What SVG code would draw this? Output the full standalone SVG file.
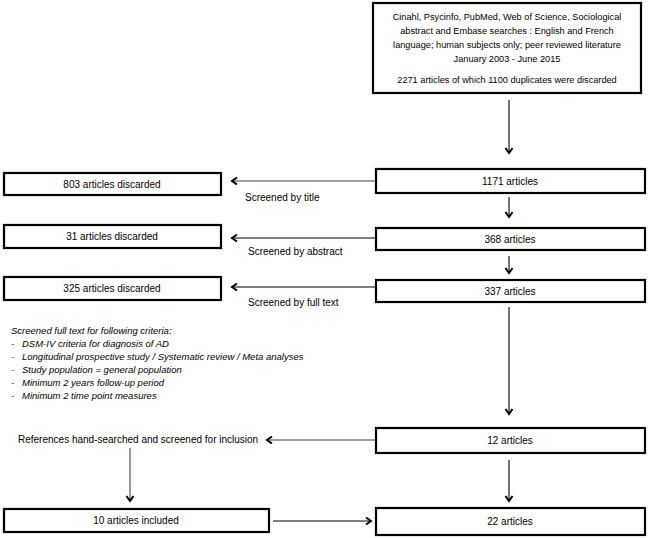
<svg xmlns="http://www.w3.org/2000/svg" width="648" height="538" viewBox="0 0 648 538">
  <defs>
    <style>
      .box { fill: #ffffff; stroke: #000000; stroke-width: 2.2; }
      .t { font-family: "Liberation Sans", Arial, sans-serif; font-size: 10px; fill: #000000; }
      .s { font-size: 9.2px; }
      .c { text-anchor: middle; }
      .it { font-style: italic; font-size: 9.5px; }
      .ln { fill: none; stroke: #000000; stroke-width: 1.1; }
      .gr { fill: none; stroke: #7f7f7f; stroke-width: 1.6; }
    </style>
    <marker id="ah" markerWidth="10" markerHeight="10" refX="6" refY="4" orient="auto" markerUnits="userSpaceOnUse">
      <path d="M1,0.5 L6,4 L1,7.5" fill="none" stroke="#000000" stroke-width="2"/>
    </marker>
  </defs>
  <rect width="648" height="538" fill="#ffffff"/>

  <g id="connectors">
    <line class="ln" x1="509" y1="100" x2="509" y2="153" marker-end="url(#ah)"/>
    <line class="gr" x1="375" y1="181" x2="232" y2="181" marker-end="url(#ah)"/>
    <line class="ln" x1="509" y1="197" x2="509" y2="217" marker-end="url(#ah)"/>
    <line class="ln" x1="375" y1="238" x2="232" y2="238" marker-end="url(#ah)"/>
    <line class="ln" x1="509" y1="256" x2="509" y2="273" marker-end="url(#ah)"/>
    <line class="ln" x1="375" y1="287" x2="232" y2="287" marker-end="url(#ah)"/>
    <line class="ln" x1="509" y1="307" x2="509" y2="414" marker-end="url(#ah)"/>
    <line class="gr" x1="375" y1="440" x2="267" y2="440" marker-end="url(#ah)"/>
    <line class="gr" x1="130" y1="448" x2="130" y2="501" marker-end="url(#ah)"/>
    <line class="ln" x1="509" y1="460" x2="509" y2="501" marker-end="url(#ah)"/>
    <line class="ln" x1="273" y1="521" x2="371" y2="521" marker-end="url(#ah)"/>
  </g>

  <g id="search">
    <rect class="box" x="373" y="3" width="268" height="90"/>
    <text class="t s c" x="507" y="20">Cinahl, Psycinfo, PubMed, Web of Science, Sociological</text>
    <text class="t s c" x="507" y="34">abstract and Embase searches : English and French</text>
    <text class="t s c" x="507" y="48">language;  human subjects only; peer reviewed literature</text>
    <text class="t s c" x="507" y="62">January 2003 - June 2015</text>
    <text class="t s c" x="507" y="83">2271 articles of which 1100 duplicates were discarded</text>
  </g>

  <g id="n1171">
    <rect class="box" x="376" y="169" width="269" height="24"/>
    <text class="t c" x="510" y="184.5">1171 articles</text>
  </g>
  <g id="n803">
    <rect class="box" x="4" y="173" width="217" height="22"/>
    <text class="t c" x="112" y="187.5">803 articles discarded</text>
  </g>
  <text class="t" x="245" y="201">Screened by title</text>

  <g id="n368">
    <rect class="box" x="376" y="228" width="269" height="22"/>
    <text class="t c" x="510" y="242.5">368 articles</text>
  </g>
  <g id="n31">
    <rect class="box" x="4" y="225" width="217" height="23"/>
    <text class="t c" x="112" y="239.5">31 articles discarded</text>
  </g>
  <text class="t" x="248" y="255">Screened by abstract</text>

  <g id="n337">
    <rect class="box" x="376" y="280" width="269" height="22"/>
    <text class="t c" x="510" y="294.5">337 articles</text>
  </g>
  <g id="n325">
    <rect class="box" x="4" y="277" width="217" height="23"/>
    <text class="t c" x="112" y="291.5">325 articles discarded</text>
  </g>
  <text class="t" x="248" y="306">Screened by full text</text>

  <g id="criteria">
    <text class="t it" x="11" y="334">Screened full text for following criteria:</text>
    <text class="t it" x="11" y="347">-</text><text class="t it" x="22" y="347">DSM-IV criteria for diagnosis of AD</text>
    <text class="t it" x="11" y="360">-</text><text class="t it" x="22" y="360">Longitudinal prospective study / Systematic review / Meta analyses</text>
    <text class="t it" x="11" y="373">-</text><text class="t it" x="22" y="373">Study population = general population</text>
    <text class="t it" x="11" y="386">-</text><text class="t it" x="22" y="386">Minimum 2 years follow-up period</text>
    <text class="t it" x="11" y="399">-</text><text class="t it" x="22" y="399">Minimum 2 time point measures</text>
  </g>

  <g id="references">
    <text class="t" x="18" y="443">References hand-searched and screened for inclusion</text>
  </g>
  <g id="n12">
    <rect class="box" x="376" y="428" width="269" height="25"/>
    <text class="t c" x="510" y="444">12 articles</text>
  </g>
  <g id="n10">
    <rect class="box" x="4" y="509" width="265" height="23"/>
    <text class="t c" x="136" y="524">10 articles included</text>
  </g>
  <g id="n22">
    <rect class="box" x="376" y="508" width="269" height="27"/>
    <text class="t c" x="510" y="525">22 articles</text>
  </g>
</svg>
